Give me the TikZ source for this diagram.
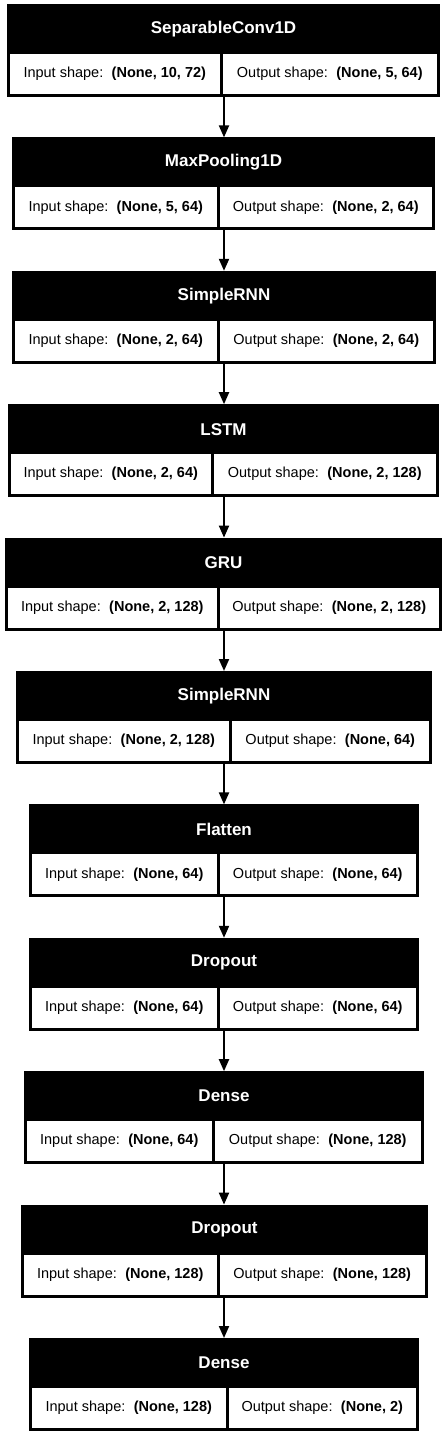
\documentclass[tikz,border=0pt]{standalone}
\usepackage{fontspec}
\setmainfont{Liberation Sans}
\usetikzlibrary{arrows.meta}
\tikzset{
  frame/.style={fill=black, draw=none, inner sep=0pt, outer sep=0pt},
  ttl/.style={text=white, font=\fontsize{17bp}{20bp}\selectfont\bfseries, inner sep=0pt},
  cell/.style={fill=white, draw=none, inner sep=0pt, outer sep=0pt, minimum height=40bp,
    font=\fontsize{14.5bp}{17bp}\selectfont},
  arr/.style={line width=2bp, -{Triangle[length=12bp,width=10bp]}},
}
\begin{document}
\begin{tikzpicture}[x=1bp,y=-1bp]
\useasboundingbox[fill=white] (0,0) rectangle (448,1436);
\coordinate (mid) at (224,0);
\foreach \k/\l/\r/\d/\t/\i/\o in {
  0/7/440/221/SeparableConv1D/{(None, 10, 72)}/{(None, 5, 64)},
  1/12/435/218/MaxPooling1D/{(None, 5, 64)}/{(None, 2, 64)},
  2/12/436/218/SimpleRNN/{(None, 2, 64)}/{(None, 2, 64)},
  3/8/439/212/LSTM/{(None, 2, 64)}/{(None, 2, 128)},
  4/5/442/218/GRU/{(None, 2, 128)}/{(None, 2, 128)},
  5/16/432/230/SimpleRNN/{(None, 2, 128)}/{(None, 64)},
  6/29/419/218/Flatten/{(None, 64)}/{(None, 64)},
  7/29/419/218/Dropout/{(None, 64)}/{(None, 64)},
  8/24/424/213/Dense/{(None, 64)}/{(None, 128)},
  9/21/428/218/Dropout/{(None, 128)}/{(None, 128)},
  10/29/419/227/Dense/{(None, 128)}/{(None, 2)}}{
  \pgfmathsetmacro\T{4+133.4*\k}
  \pgfmathsetmacro\W{\r-\l}
  \pgfmathsetmacro\C{(\l+\r)/2}
  \pgfmathsetmacro\wa{\d-1.5-\l-3}
  \pgfmathsetmacro\ca{(\l+3+\d-1.5)/2}
  \pgfmathsetmacro\wb{\r-3-\d-1.5}
  \pgfmathsetmacro\cb{(\d+1.5+\r-3)/2}
  \node[frame, minimum width=\W bp, minimum height=93bp] (b\k) at (\C, \T+46.5) {};
  \node[ttl] (t\k) at (\C, \T+25) {\t};
  \node[cell, minimum width=\wa bp] (in\k) at (\ca, \T+70) {Input shape:\hspace{3bp} \textbf{\i}};
  \node[cell, minimum width=\wb bp] (out\k) at (\cb, \T+70) {Output shape:\hspace{3bp} \textbf{\o}};
}
\foreach \k in {0,...,9}{
  \pgfmathtruncatemacro\n{\k+1}
  \draw[arr] (b\k.south -| mid) -- (b\n.north -| mid);
}
\end{tikzpicture}
\end{document}
